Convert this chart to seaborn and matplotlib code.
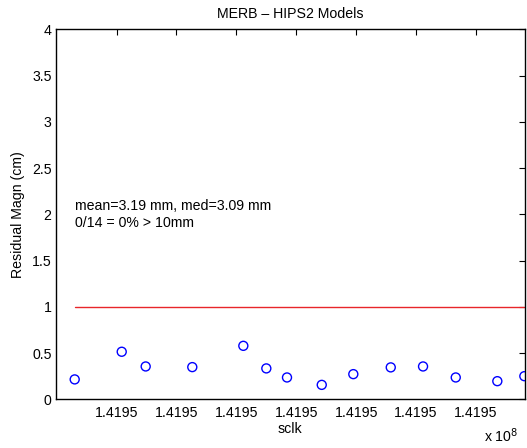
import matplotlib
matplotlib.use("Agg")
import matplotlib.pyplot as plt
import seaborn as sns
import numpy as np
import pandas as pd

sclk = [141946302, 141947087, 141947487, 141948265, 141949117, 141949501, 141949846,
        141950426, 141950953, 141951578, 141952117, 141952663, 141953357, 141953808]
resid_cm = [0.217, 0.516, 0.357, 0.350, 0.580, 0.336, 0.238,
            0.158, 0.274, 0.347, 0.357, 0.238, 0.198, 0.252]
threshold = 1.0
x_ticks = [141947000, 141948000, 141949000, 141950000, 141951000, 141952000, 141953000]
x_tick_labels = ["1.4195"] * 7
y_ticks = [0, 0.5, 1, 1.5, 2, 2.5, 3, 3.5, 4]
y_tick_labels = ["0", "0.5", "1", "1.5", "2", "2.5", "3", "3.5", "4"]
title = "MERB \u2013 HIPS2 Models"
stats_text = "mean=3.19 mm, med=3.09 mm\n0/14 = 0% > 10mm"

sns.set_style("white")
plt.rcParams['font.family'] = ['Liberation Sans', 'DejaVu Sans']
plt.rcParams['text.color'] = 'black'
plt.rcParams['axes.labelcolor'] = 'black'

FS = 10.2
fig = plt.figure(figsize=(5.27, 4.48), dpi=100)
ax = fig.add_axes([0.1057, 0.1083, 0.8896, 0.8259])

df = pd.DataFrame({"sclk": sclk, "resid": resid_cm})
line_df = pd.DataFrame({"sclk": [sclk[0], sclk[-1]], "resid": [threshold, threshold]})

sns.lineplot(data=line_df, x="sclk", y="resid", color="#e8262a", linewidth=1.0, ax=ax)
sns.scatterplot(data=df, x="sclk", y="resid", marker="o", s=42,
                facecolor="none", edgecolor="#0000ff", linewidth=1.0, ax=ax, zorder=3)

ax.set_xlim(141945985, sclk[-1] + 3)
ax.set_ylim(0, 4)
ax.set_xticks(x_ticks)
ax.set_xticklabels(x_tick_labels)
ax.set_yticks(y_ticks)
ax.set_yticklabels(y_tick_labels)
ax.tick_params(direction="in", length=4, width=0.8, labelsize=FS, colors="black",
               top=True, right=True)
ax.tick_params(axis="x", pad=5)
ax.tick_params(axis="y", pad=3)
for s in ax.spines.values():
    s.set_color("black")
    s.set_linewidth(1.0)
ax.set_title(title, fontsize=FS, pad=8, color="black")
ax.set_xlabel("sclk", fontsize=FS, labelpad=1)
ax.set_ylabel("Residual Magn (cm)", fontsize=FS, labelpad=5)
ax.text(sclk[0], 2.0, stats_text, fontsize=FS, va="center", ha="left", linespacing=1.2)
fig.text(0.918, 0.0134, "x 10$^{8}$", fontsize=FS, ha="left", va="baseline")

fig.savefig("out.png", dpi=100)
